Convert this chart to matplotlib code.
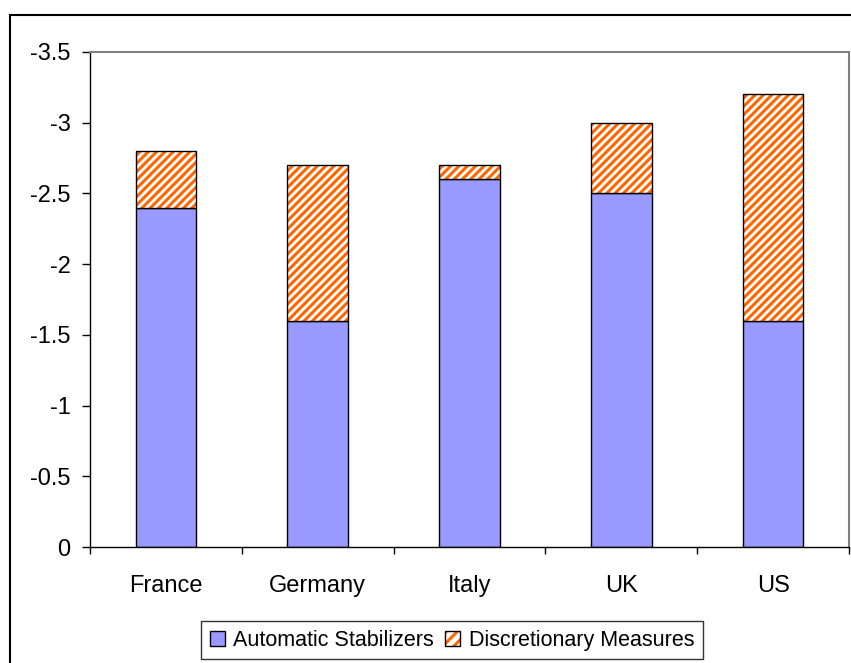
import matplotlib
matplotlib.use("Agg")
import matplotlib.pyplot as plt
from matplotlib.patches import Rectangle, Patch
import numpy as np

plt.rcParams['font.family'] = ['Liberation Sans', 'DejaVu Sans']
plt.rcParams['hatch.linewidth'] = 2.2

countries = ["France", "Germany", "Italy", "UK", "US"]
automatic = [-2.4, -1.6, -2.6, -2.5, -1.6]
discretionary = [-0.4, -1.1, -0.1, -0.5, -1.6]
y_ticks = [0, -0.5, -1, -1.5, -2, -2.5, -3, -3.5]

fig = plt.figure(figsize=(8.51, 6.63), dpi=100)
ax = fig.add_axes([90 / 851, 1 - 547 / 663, 759 / 851, 495 / 663])

x = np.arange(len(countries))
ax.bar(x, automatic, width=0.4, color='#9999FF', edgecolor='black', linewidth=1)
# hatch in orange, then black outline on top
ax.bar(x, discretionary, width=0.4, bottom=automatic, color='white', edgecolor='#FF6600',
       linewidth=0, hatch='////')
ax.bar(x, discretionary, width=0.4, bottom=automatic, fill=False, edgecolor='black',
       linewidth=1)

ax.set_xlim(-0.5, len(countries) - 0.5)
ax.set_ylim(0, -3.5)
ax.set_yticks(y_ticks)
ax.set_yticklabels([f"{v:g}" if v != 0 else "0" for v in y_ticks])
ax.set_xticks(x)
ax.set_xticklabels(countries)
ax.set_xticks(np.arange(-0.5, len(countries)), minor=True)

ax.tick_params(axis='y', direction='out', length=6, width=1, pad=8, labelsize=17)
ax.tick_params(axis='x', which='major', length=0, pad=20, labelsize=17)
ax.tick_params(axis='x', which='minor', direction='out', length=5, width=1)

for side in ['top', 'right']:
    ax.spines[side].set_color('#808080')
    ax.spines[side].set_linewidth(1.5)
for side in ['left', 'bottom']:
    ax.spines[side].set_color('black')
    ax.spines[side].set_linewidth(1)

# outer chart border
fig.patches.append(Rectangle((10 / 851, -0.5), 2, 1.5 - 15 / 663, transform=fig.transFigure,
                             fill=False, edgecolor='black', linewidth=1.5, clip_on=False))

handles = [Patch(facecolor='#9999FF', edgecolor='black', linewidth=1),
           (Patch(facecolor='white', edgecolor='#FF6600', hatch='///', linewidth=0),
            Patch(fill=False, edgecolor='black', linewidth=1))]
labels = ['Automatic Stabilizers', 'Discretionary Measures']
leg = fig.legend(handles, labels, loc='upper center', bbox_to_anchor=(452 / 851, 1 - 621 / 663),
                 ncol=2, fontsize=15.5, frameon=True, fancybox=False, edgecolor='black',
                 handlelength=0.7, handleheight=0.7, handletextpad=0.4, columnspacing=0.5,
                 borderpad=0.4, borderaxespad=0)
leg.get_frame().set_linewidth(1)

fig.savefig("out.png", dpi=100)
